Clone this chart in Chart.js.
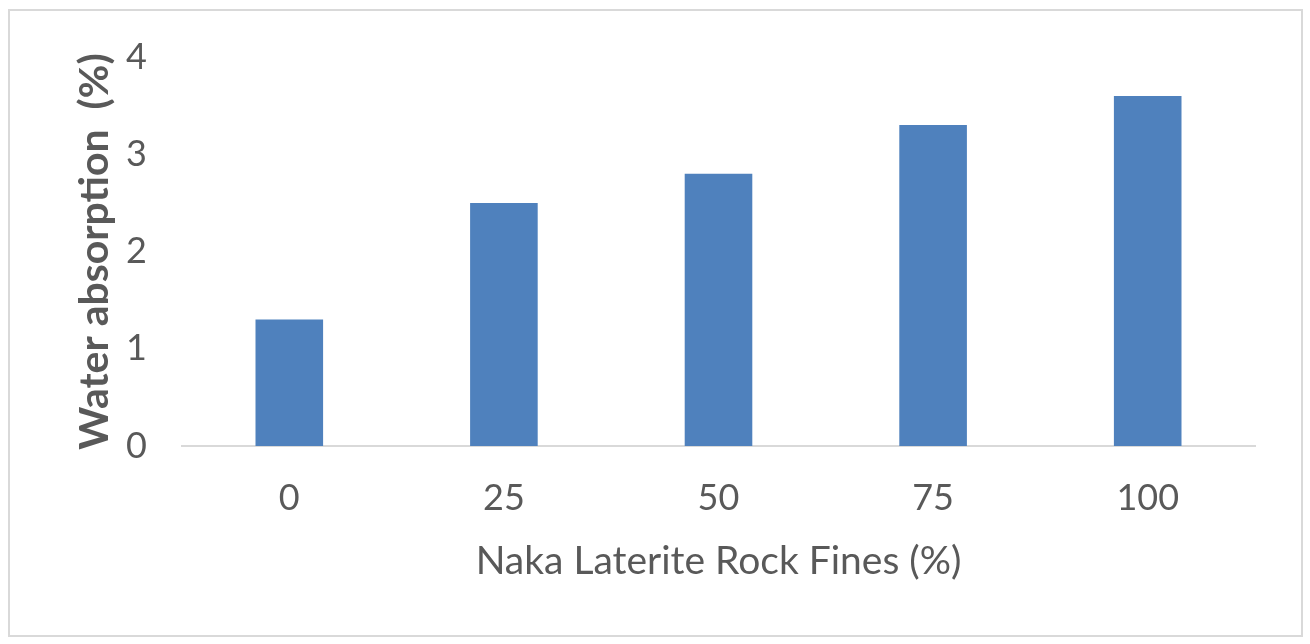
<!DOCTYPE html>
<html>
<head>
    <title>Water absorption</title>
    <script src="https://cdn.jsdelivr.net/npm/chart.js"></script>
    <style>
        html, body { margin:0; padding:0; background:#fff; }
        #box { position:absolute; left:8px; top:9px; width:1295px; height:628px;
               border:2px solid #d9d9d9; box-sizing:border-box; }
        #box canvas { display:block; }
    </style>
</head>
<body>
    <div id="box"><canvas id="waterChart" width="1291" height="624"></canvas></div>

    <script>
        const categories = ["0", "25", "50", "75", "100"];
        const absorption = [1.3, 2.5, 2.8, 3.3, 3.6];
        const yTicks = [0, 1, 2, 3, 4];

        const grey = "#595959";

        new Chart(document.getElementById("waterChart"), {
            type: 'bar',
            data: {
                labels: categories,
                datasets: [{
                    label: "Water absorption (%)",
                    data: absorption,
                    backgroundColor: "#4f81bd",
                    categoryPercentage: 1,
                    barPercentage: 0.315
                }]
            },
            options: {
                responsive: false,
                animation: false,
                layout: { padding: { top: 46, right: 46, left: 60, bottom: 50 } },
                plugins: { legend: { display: false }, tooltip: { enabled: false } },
                scales: {
                    x: {
                        grid: { display: false, drawTicks: false },
                        border: { display: true, color: "#d9d9d9", width: 2 },
                        ticks: { color: grey, font: { family: "Lato", size: 36 }, padding: 31 },
                        title: {
                            display: true, text: "Naka Laterite Rock Fines (%)", color: grey,
                            font: { family: "Lato", size: 39 }, padding: { top: 10, bottom: 0 }
                        },
                        afterFit: (s) => { s.height = 139; }
                    },
                    y: {
                        min: 0, max: 4,
                        afterBuildTicks: (s) => { s.ticks = yTicks.map(v => ({ value: v })); },
                        grid: { display: false, drawTicks: false },
                        border: { display: false },
                        ticks: { color: grey, font: { family: "Lato", size: 36 }, padding: 35 },
                        title: {
                            display: true, text: "Water absorption  (%)", color: grey,
                            font: { family: "Lato", size: 41, weight: "bold" }, padding: 0
                        },
                        afterFit: (s) => { s.width = 112; s.paddingTop = 0; s.paddingBottom = 0; }
                    }
                }
            }
        });
    </script>
</body>
</html>
